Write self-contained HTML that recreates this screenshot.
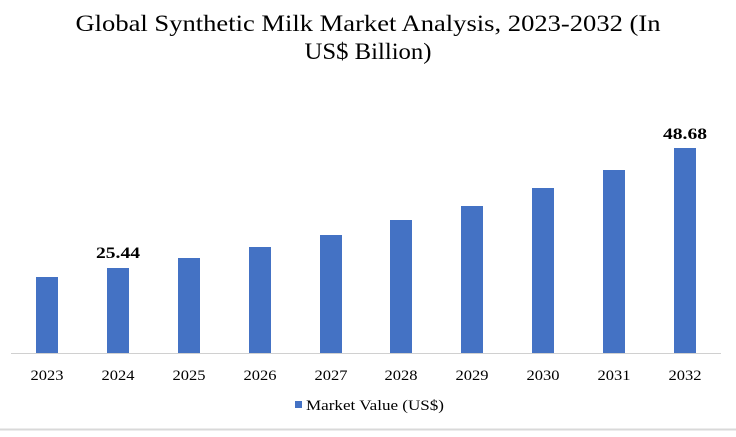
<!DOCTYPE html><html><head><style>body{margin:0;background:#fff;width:736px;height:432px;overflow:hidden;font-family:"Liberation Serif",serif}</style></head><body>
<svg width="736" height="432" xmlns="http://www.w3.org/2000/svg" font-family="Liberation Serif, serif">
<text x="368" y="31" text-anchor="middle" font-size="23" fill="#000" textLength="585" lengthAdjust="spacingAndGlyphs">Global Synthetic Milk Market Analysis, 2023-2032 (In</text>
<text x="368" y="59" text-anchor="middle" font-size="23" fill="#000" textLength="127" lengthAdjust="spacingAndGlyphs">US$ Billion)</text>
<line x1="11" y1="353.5" x2="721" y2="353.5" stroke="#d0d0d0" stroke-width="1"/>
<g fill="#4472c4">
<rect x="36" y="277" width="22" height="76"/>
<rect x="107" y="268" width="22" height="85"/>
<rect x="178" y="258" width="22" height="95"/>
<rect x="249" y="247" width="22" height="106"/>
<rect x="320" y="235" width="22" height="118"/>
<rect x="390" y="220" width="22" height="133"/>
<rect x="461" y="206" width="22" height="147"/>
<rect x="532" y="188" width="22" height="165"/>
<rect x="603" y="170" width="22" height="183"/>
<rect x="674" y="148" width="22" height="205"/>
</g>
<text x="118" y="258" text-anchor="middle" font-size="16" font-weight="bold" textLength="44" lengthAdjust="spacingAndGlyphs">25.44</text>
<text x="685" y="139" text-anchor="middle" font-size="16" font-weight="bold" textLength="44" lengthAdjust="spacingAndGlyphs">48.68</text>
<g font-size="15" text-anchor="middle" fill="#000">
<text x="47" y="380" textLength="33" lengthAdjust="spacingAndGlyphs">2023</text><text x="118" y="380" textLength="33" lengthAdjust="spacingAndGlyphs">2024</text><text x="189" y="380" textLength="33" lengthAdjust="spacingAndGlyphs">2025</text><text x="260" y="380" textLength="33" lengthAdjust="spacingAndGlyphs">2026</text><text x="331" y="380" textLength="33" lengthAdjust="spacingAndGlyphs">2027</text><text x="401" y="380" textLength="33" lengthAdjust="spacingAndGlyphs">2028</text><text x="472" y="380" textLength="33" lengthAdjust="spacingAndGlyphs">2029</text><text x="543" y="380" textLength="33" lengthAdjust="spacingAndGlyphs">2030</text><text x="614" y="380" textLength="33" lengthAdjust="spacingAndGlyphs">2031</text><text x="685" y="380" textLength="33" lengthAdjust="spacingAndGlyphs">2032</text>
</g>
<rect x="295" y="401" width="7" height="7" fill="#4472c4"/>
<text x="306" y="410" font-size="15" textLength="138" lengthAdjust="spacingAndGlyphs">Market Value (US$)</text>
<line x1="0" y1="429.5" x2="736" y2="429.5" stroke="#d9d9d9" stroke-width="2"/>
</svg></body></html>
